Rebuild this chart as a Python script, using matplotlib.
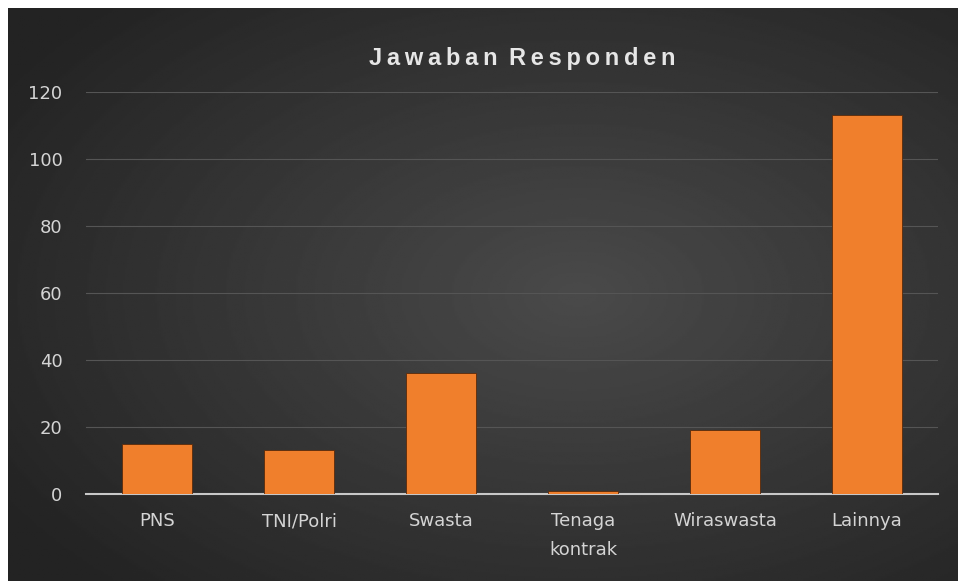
import matplotlib
matplotlib.use('Agg')
import matplotlib.pyplot as plt
import numpy as np

categories = ['PNS', 'TNI/Polri', 'Swasta', 'Tenaga\nkontrak', 'Wiraswasta', 'Lainnya']
values = [15, 13, 36, 1, 19, 113]
yticks = [0, 20, 40, 60, 80, 100, 120]
title = 'Jawaban Responden'

W, H = 958, 581
fig = plt.figure(figsize=(W / 100, H / 100), dpi=100, facecolor='white')

# background panel with radial gradient
bg = fig.add_axes([8 / W, 0, (W - 8) / W, (H - 8) / H])
bg.set_axis_off()
yy, xx = np.mgrid[0:1:300j, 0:1:500j]
r = np.sqrt(((xx - 0.6) / 0.75) ** 2 + ((yy - 0.5) / 0.75) ** 2)
shade = np.clip(0.29 - 0.16 * r, 0.14, 0.29)
bg.imshow(shade, cmap='gray', vmin=0, vmax=1, aspect='auto', extent=[0, 1, 0, 1])

ax = fig.add_axes([86 / W, (H - 494) / H, 852 / W, 402 / H])
ax.patch.set_alpha(0)
x = np.arange(len(categories))
ax.bar(x, values, width=0.49, color='#f07f2c', edgecolor='#5a2a0a', linewidth=0.6, zorder=3)
ax.set_xlim(-0.5, len(categories) - 0.5)
ax.set_ylim(0, 120)
ax.set_yticks(yticks)
ax.set_xticks(x)
ax.set_xticklabels(categories, linespacing=1.75)
ax.yaxis.grid(True, color='#555555', linewidth=0.8, zorder=0)
for s in ['top', 'right', 'left']:
    ax.spines[s].set_visible(False)
ax.spines['bottom'].set_color('#c8c8c8')
ax.spines['bottom'].set_linewidth(1.5)
ax.tick_params(length=0, colors='#d4d4d4', labelsize=13)
ax.tick_params(axis='x', pad=13)
ax.tick_params(axis='y', pad=17)

spaced = ' \u2009'.join('\u2009'.join(w) for w in title.split(' '))
fig.text(522 / W, 1 - 58 / H, spaced, ha='center', va='center', color='#e6e6e6',
         fontsize=17, fontweight='bold', family='Liberation Sans')

fig.savefig('out.png', dpi=100, facecolor='white')
